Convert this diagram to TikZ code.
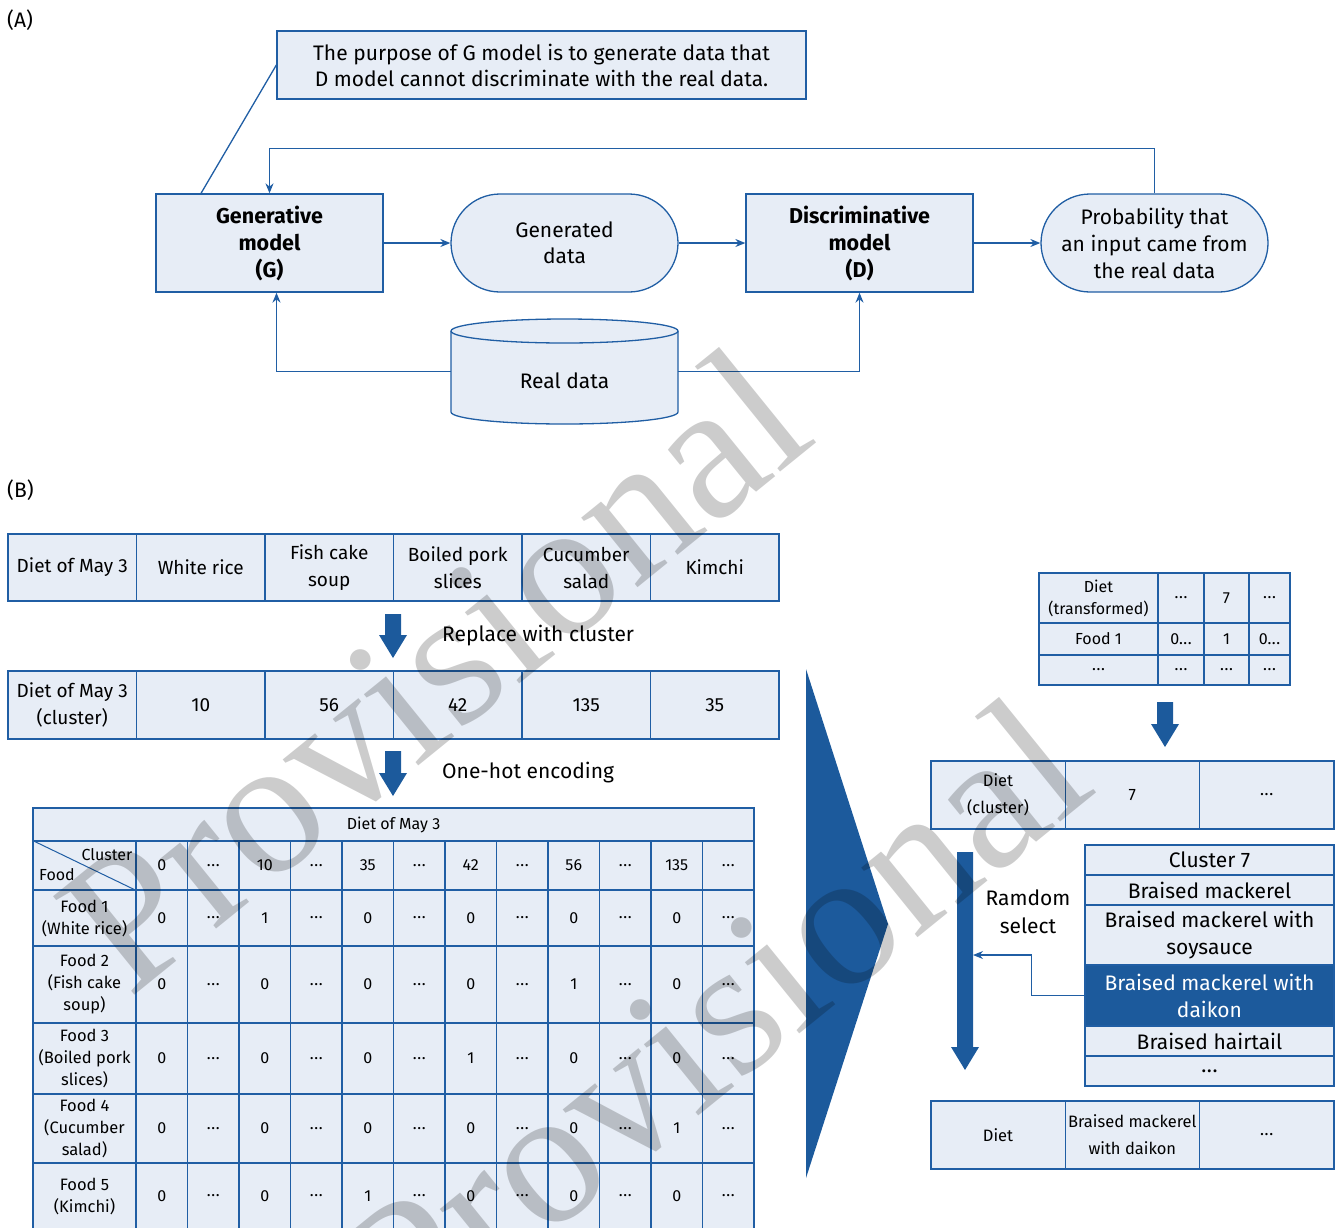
\documentclass[tikz,border=0pt]{standalone}
\usepackage{fontspec}
\setmainfont{Fira Sans}
\newfontfamily\wmfont{Liberation Serif}
\usetikzlibrary{shapes.geometric,shapes.misc,arrows.meta}
\definecolor{bl}{RGB}{32,94,164}
\definecolor{lf}{RGB}{231,237,246}
\definecolor{db}{RGB}{28,90,156}
\newcommand{\fsz}[2]{\fontsize{#1}{#2}\selectfont}
\newcommand{\dd}{.\kern0.6pt.\kern0.6pt.}
\newcommand{\blockarrow}[3]{\fill[db] (#1-8,#2) -- (#1+8,#2) -- (#1+8,#3-23) -- (#1+14,#3-23) -- (#1,#3) -- (#1-14,#3-23) -- (#1-8,#3-23) -- cycle;}
\begin{document}
\begin{tikzpicture}[x=1pt,y=-1pt,
  conn/.style={draw=bl, line width=1.3pt, -{Stealth[length=10pt,width=8pt]}},
  plain/.style={draw=bl, line width=1.3pt},
  bx/.style={draw=bl, fill=lf, line width=1.3pt, align=center, inner sep=0pt},
  cell/.style={bx, font=\fsz{16.5}{22}},
  lbl/.style={inner sep=0pt, align=center},
  wm/.style={inner sep=0pt, anchor=base west, text=black, text opacity=0.2, font=\wmfont\fsz{195}{195}}
]
\useasboundingbox (0,0) rectangle (1338,1227);
\clip (0,0) rectangle (1338,1227);

% ---------------- (A) ----------------
\node[lbl, anchor=west, font=\fsz{21}{24}] (la) at (7,20) {(A)};
\node[bx, minimum width=529, minimum height=68, font=\fsz{21}{26}] (P) at (541.5,65)
  {The purpose of G model is to generate data that\\D model cannot discriminate with the real data.};
\node[bx, minimum width=227, minimum height=98, font=\bfseries\fsz{21.5}{27}] (G) at (269.5,243) {Generative\\model\\(G)};
\node[bx, rounded rectangle, minimum width=227, minimum height=98, font=\fsz{21}{26}] (GD) at (564.5,243) {Generated\\data};
\node[bx, minimum width=227, minimum height=98, font=\bfseries\fsz{21.5}{27}] (D) at (859.5,243) {Discriminative\\model\\(D)};
\node[bx, rounded rectangle, minimum width=227, minimum height=98, font=\fsz{21}{27}] (PR) at (1154.5,243) {Probability that\\an input came from\\the real data};

% cylinder
\path[fill=lf] (451,331) -- (451,412) arc[start angle=180,end angle=0,x radius=113.5,y radius=12]
  -- (678,331) arc[start angle=0,end angle=-180,x radius=113.5,y radius=12] -- cycle;
\draw[plain] (451,331) -- (451,412) arc[start angle=180,end angle=0,x radius=113.5,y radius=12] -- (678,331);
\draw[plain] (564.5,331) ellipse[x radius=113.5,y radius=12];
\node[minimum width=227, minimum height=105, inner sep=0pt] (R) at (564.5,371.5) {};
\node[lbl, font=\fsz{21}{24}] (Rl) at (564.5,381) {Real data};

\draw[plain] ([xshift=-68.5pt]G.north) -- (P.west);
\draw[conn] (G.east) -- (GD.west);
\draw[conn] (GD.east) -- (D.west);
\draw[conn] (D.east) -- (PR.west);
\draw[conn] (PR.north) -- ++(0,-45) -| (G.north);
\draw[conn] (R.west) -| ([xshift=7pt]G.south);
\draw[conn] (R.east) -| (D.south);

% ---------------- (B) ----------------
\node[lbl, anchor=west, font=\fsz{21}{24}] (lb) at (7,490) {(B)};
\foreach \t [count=\i from 0] in {Diet of May 3, White rice, Fish cake\\soup, Boiled pork\\slices, Cucumber\\salad, Kimchi}
  \node[cell, font=\fsz{19}{27}, minimum width=128.5, minimum height=67] (ra\i) at ({8+128.5*\i+64.25},567.5) {\t};
\foreach \t [count=\i from 0] in {Diet of May 3\\(cluster), 10, 56, 42, 135, 35}
  \node[cell, font=\fsz{19}{27}, minimum width=128.5, minimum height=68] (rb\i) at ({8+128.5*\i+64.25},705) {\t};

\blockarrow{393}{614}{658}
\node[lbl, anchor=west, font=\fsz{21}{24}] (t1) at (442,636) {Replace with cluster};
\blockarrow{393}{751}{796}
\node[lbl, anchor=west, font=\fsz{21}{24}] (t2) at (442,773) {One-hot encoding};

% big table
\node[cell, font=\fsz{16}{18}, minimum width=721, minimum height=33] (bt) at (393.5,824.5) {Diet of May 3};
\node[cell, minimum width=103, minimum height=49] (cn) at (84.5,865.5) {};
\draw[draw=bl, line width=1pt] (cn.north west) -- (cn.south east);
\node[lbl, font=\fsz{16}{18}] (cl) at (107,855) {Cluster};
\node[lbl, font=\fsz{16}{18}] (fd) at (57,875) {Food};
\foreach \t [count=\j] in {0,\dd,10,\dd,35,\dd,42,\dd,56,\dd,135,\dd}
  \node[cell, font=\fsz{16}{18}, minimum width=51.5, minimum height=49] (h\j) at ({136+51.5*(\j-0.5)},865.5) {\t};
\foreach \r/\yc/\hh/\lab/\vals in {
  1/918/56/{Food 1\\(White rice)}/{0,\dd,1,\dd,0,\dd,0,\dd,0,\dd,0,\dd},
  2/984.5/77/{Food 2\\(Fish cake\\soup)}/{0,\dd,0,\dd,0,\dd,0,\dd,1,\dd,0,\dd},
  3/1058.5/71/{Food 3\\(Boiled pork\\slices)}/{0,\dd,0,\dd,0,\dd,1,\dd,0,\dd,0,\dd},
  4/1128.5/69/{Food 4\\(Cucumber\\salad)}/{0,\dd,0,\dd,0,\dd,0,\dd,0,\dd,1,\dd},
  5/1196/66/{Food 5\\(Kimchi)}/{0,\dd,0,\dd,1,\dd,0,\dd,0,\dd,0,\dd}} {
  \node[cell, minimum width=103, minimum height=\hh] (l\r) at (84.5,\yc) {\lab};
  \foreach \t [count=\j] in \vals
    \node[cell, font=\fsz{16}{18}, minimum width=51.5, minimum height=\hh] (c\r-\j) at ({136+51.5*(\j-0.5)},\yc) {\t};
}

% big triangle
\fill[db] (806,669) -- (888,924) -- (806,1178) -- cycle;

% right side small table
\begin{scope}[every node/.style={cell, font=\fsz{16}{22}}]
\node[minimum width=119, minimum height=50] (s11) at (1098.5,598) {Diet\\(transformed)};
\node[minimum width=46, minimum height=50] (s12) at (1181,598) {\dd};
\node[minimum width=45, minimum height=50] (s13) at (1226.5,598) {7};
\node[minimum width=41, minimum height=50] (s14) at (1269.5,598) {\dd};
\node[minimum width=119, minimum height=32] (s21) at (1098.5,639) {Food 1};
\node[minimum width=46, minimum height=32] (s22) at (1181,639) {0\dd};
\node[minimum width=45, minimum height=32] (s23) at (1226.5,639) {1};
\node[minimum width=41, minimum height=32] (s24) at (1269.5,639) {0\dd};
\node[minimum width=119, minimum height=30] (s31) at (1098.5,670) {\dd};
\node[minimum width=46, minimum height=30] (s32) at (1181,670) {\dd};
\node[minimum width=45, minimum height=30] (s33) at (1226.5,670) {\dd};
\node[minimum width=41, minimum height=30] (s34) at (1269.5,670) {\dd};
\end{scope}
\blockarrow{1165}{702}{747}

\begin{scope}[every node/.style={cell, font=\fsz{16.5}{27}, minimum width=134.3, minimum height=68}]
\node (dc1) at (998,795) {Diet\\(cluster)};
\node (dc2) at (1132.3,795) {7};
\node (dc3) at (1266.7,795) {\dd};
\node (df1) at (998,1135) {Diet};
\node (df2) at (1132.3,1135) {Braised mackerel\\with daikon};
\node (df3) at (1266.7,1135) {\dd};
\end{scope}

\begin{scope}[every node/.style={cell, font=\fsz{21}{27}, minimum width=249}]
\node[minimum height=30] (k1) at (1209.5,860) {Cluster 7};
\node[minimum height=30] (k2) at (1209.5,890) {Braised mackerel};
\node[minimum height=60] (k3) at (1209.5,935) {Braised mackerel with\\soysauce};
\node[minimum height=61, fill=db, text=white] (k4) at (1209.5,995.5) {Braised mackerel with\\daikon};
\node[minimum height=30] (k5) at (1209.5,1041) {Braised hairtail};
\node[minimum height=30] (k6) at (1209.5,1071) {\dd};
\end{scope}

\blockarrow{965}{852}{1070}
\node[lbl, font=\fsz{21}{28}] (rs) at (1028,912) {Ramdom\\select};
\coordinate (rsa) at (973,955);
\draw[conn, line width=1.1pt] (k4.west) -- ++(-53,0) |- (rsa);

% watermark
\node[wm, rotate=39] (wm1) at (129,1000) {Provisional};
\node[wm, rotate=39] (wm2) at (409,1350) {Provisional};
\end{tikzpicture}
\end{document}
